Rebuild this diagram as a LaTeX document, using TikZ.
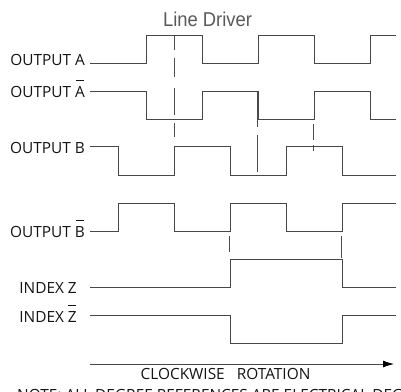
\documentclass[tikz,border=0pt]{standalone}
\usepackage{fontspec}
\setmainfont{Open Sans}
\newfontfamily\titlefont{Liberation Sans}[FakeStretch=0.92]
\usetikzlibrary{arrows.meta}
\newcommand{\barred}[1]{\ooalign{#1\cr\hidewidth\raisebox{16.4pt}{\rule{8pt}{0.6pt}}\hidewidth}}
\tikzset{
  wave/.style={draw=black!72,line width=0.8pt,line join=miter},
  guide/.style={draw=black!70,line width=0.7pt},
  lab/.style={anchor=base east,inner sep=0pt,font=\fontsize{15.4}{17}\selectfont,text=black!92},
  arrowline/.style={draw=black!72,line width=0.8pt,-{Latex[length=11pt,width=7pt,black]}}
}
\begin{document}
\begin{tikzpicture}[x=1pt,y=-1pt]
\useasboundingbox (0,0) rectangle (401,391);
\clip (0,0) rectangle (401,391);
\node[anchor=base,inner sep=0pt,text=black!65,font=\titlefont\fontsize{20}{22}\selectfont] (title) at (207.5,26) {Line Driver};
\node[lab] (la) at (85,65) {OUTPUT A};
\node[lab] (lab) at (85,97) {OUTPUT \barred{A}};
\node[lab] (lb) at (85,153) {OUTPUT B};
\node[lab] (lbb) at (85,237) {OUTPUT \barred{B}};
\node[lab] (lz) at (77,293.5) {INDEX Z};
\node[lab] (lzb) at (77,322) {INDEX \barred{Z}};
\node[lab,anchor=base] (rot) at (225.5,379) {CLOCKWISE\ \ \ ROTATION};
\node[lab,anchor=base west] (note) at (17,400) {NOTE: ALL DEGREE REFERENCES ARE ELECTRICAL DEGREES};
% guides
\foreach \a/\b in {35/50,58/77,88/115,123/137} \draw[guide] (174,\a) -- (174,\b);
\foreach \a/\b in {91/127,135/172} \draw[guide] (257.5,\a) -- (257.5,\b);
\foreach \a/\b in {124/140,145/151} \draw[guide] (313.5,\a) -- (313.5,\b);
\draw[guide] (229.5,236) -- (229.5,252);
\draw[guide] (341.5,236) -- (341.5,258);
% waves
\draw[wave] (90,63) -| (146,35) -| (202,63) -| (258,35) -| (314,63) -| (370,35) -- (396,35);
\draw[wave] (90,91) -| (146,119) -| (202,91) -| (258,119) -| (314,91) -| (370,119) -- (396,119);
\draw[wave] (90,146.5) -| (118,175) -| (174,146.5) -| (230,175) -| (286,146.5) -| (342,175) -- (396,175);
\draw[wave] (90,231) -| (118,203) -| (174,231) -| (230,203) -| (286,231) -| (342,203) -- (396,203);
\draw[wave] (90,287) -| (230,259) -| (342,287) -- (396,287);
\draw[wave] (90,315) -| (230,343) -| (342,315) -- (396,315);
\draw[arrowline] (90,364) -- (394,364);
\end{tikzpicture}
\end{document}
